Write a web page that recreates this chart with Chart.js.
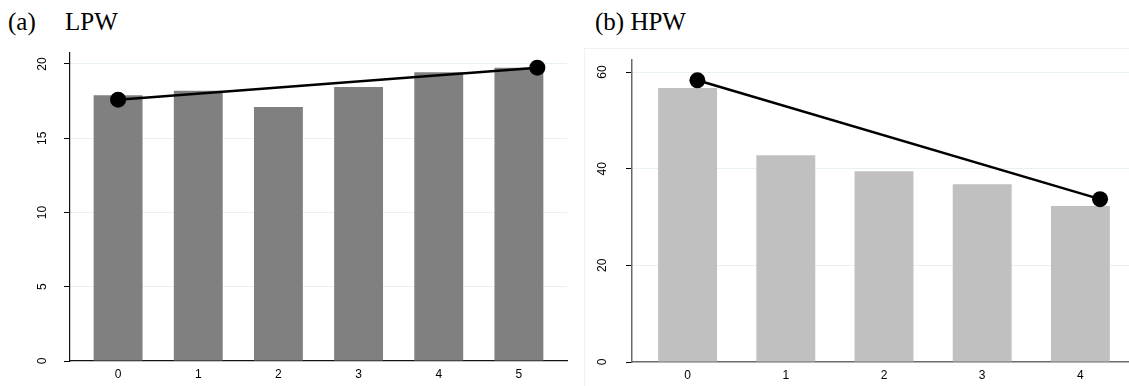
<!DOCTYPE html>
<html>
<head>
<meta charset="utf-8">
<script src="https://cdn.jsdelivr.net/npm/chart.js@4.4.1/dist/chart.umd.min.js"></script>
<style>
  body { margin: 0; background: #fff; overflow: hidden; width: 1129px; height: 386px; position: relative; }
  .ttl { position: absolute; top: 9px; font-family: "Liberation Serif", "Times New Roman", serif; font-size: 25px; line-height: 1; color: #000; white-space: pre; }
  #frameB { position: absolute; left: 584px; top: 48px; width: 600px; height: 400px; border-left: 1px solid #edf2f4; border-top: 1px solid #edf2f4; }
  #chartA { position: absolute; left: 0; top: 0; }
  #chartB { position: absolute; left: 584px; top: 0; }
</style>
</head>
<body>
<div id="frameB"></div>
<div class="ttl" style="left:8px">(a)</div>
<div class="ttl" style="left:65px">LPW</div>
<div class="ttl" style="left:595px">(b) HPW</div>
<canvas id="chartA" width="575" height="386"></canvas>
<canvas id="chartB" width="560" height="386"></canvas>
<script>
// panel (a) LPW
var catsA = ["0", "1", "2", "3", "4", "5"];
var barsA = [17.9, 18.2, 17.1, 18.45, 19.45, 19.75];
var lineXA = [0, 5.23];
var lineYA = [17.6, 19.75];
var ticksA = [0, 5, 10, 15, 20];

// panel (b) HPW
var catsB = ["0", "1", "2", "3", "4"];
var barsB = [56.7, 42.8, 39.5, 36.8, 32.3];
var lineXB = [0.1, 4.2];
var lineYB = [58.3, 33.7];
var ticksB = [0, 20, 40, 60];

var tickFont = { family: '"Liberation Sans", Arial, sans-serif', size: 12 };

function makePanel(id, cats, bars, lineX, lineY, yTicks, opt) {
    var barData = cats.map(function (c, i) { return { x: i, y: bars[i] }; });
    var lineData = lineX.map(function (x, i) { return { x: x, y: lineY[i] }; });

    var ctx = document.getElementById(id).getContext("2d");
    new Chart(ctx, {
        type: 'bar',
        data: {
            datasets: [
                {
                    type: 'line',
                    data: lineData,
                    borderColor: '#000',
                    borderWidth: 2.5,
                    pointRadius: 8,
                    pointBackgroundColor: '#000',
                    pointBorderWidth: 0,
                    order: 0
                },
                {
                    type: 'bar',
                    data: barData,
                    backgroundColor: opt.barColor,
                    categoryPercentage: 1,
                    barPercentage: opt.barPct,
                    order: 1
                }
            ]
        },
        options: {
            responsive: false,
            animation: false,
            devicePixelRatio: 1,
            layout: { padding: opt.padding },
            plugins: { legend: { display: false }, tooltip: { enabled: false } },
            scales: {
                x: {
                    type: 'linear',
                    offset: false,
                    min: opt.xMin,
                    max: opt.xMax,
                    grid: { display: false, drawTicks: false },
                    border: { color: opt.axisColor, width: opt.axisWidth },
                    afterBuildTicks: function (s) {
                        s.ticks = cats.map(function (c, i) { return { value: i }; });
                    },
                    ticks: {
                        padding: 6,
                        maxRotation: 0,
                        autoSkip: false,
                        color: '#000',
                        font: tickFont,
                        callback: function (v) { return cats[v]; }
                    },
                    afterFit: function (s) { s.height = opt.xHeight; }
                },
                y: {
                    min: 0,
                    max: opt.yMax,
                    afterBuildTicks: function (s) {
                        s.ticks = yTicks.map(function (v) { return { value: v }; });
                    },
                    grid: {
                        color: function (c) { return c.tick && c.tick.value === 0 ? 'rgba(0,0,0,0)' : '#e9f0f1'; },
                        tickColor: '#000',
                        tickLength: 6,
                        lineWidth: 1
                    },
                    border: { color: opt.axisColor, width: opt.axisWidth },
                    ticks: {
                        minRotation: 90,
                        maxRotation: 90,
                        crossAlign: 'center',
                        padding: opt.yPad,
                        color: '#000',
                        font: tickFont
                    },
                    afterFit: function (s) { s.width = opt.yWidth; }
                }
            }
        }
    });
}

makePanel("chartA", catsA, barsA, lineXA, lineYA, ticksA, {
    barColor: '#808080', barPct: 0.61,
    xMin: -0.6, xMax: 5.6, yMax: 20.74,
    padding: { top: 53, right: 6, left: 0, bottom: 0 },
    yWidth: 70, xHeight: 25, yPad: 15,
    axisColor: '#111', axisWidth: 1.2
});

makePanel("chartB", catsB, barsB, lineXB, lineYB, ticksB, {
    barColor: '#c0c0c0', barPct: 0.6,
    xMin: -0.566, xMax: 4.566, yMax: 62.5,
    padding: { top: 60, right: 4.4, left: 0, bottom: 0 },
    yWidth: 48, xHeight: 24, yPad: 16.5,
    axisColor: '#6a6a6a', axisWidth: 1.5
});
</script>
</body>
</html>
